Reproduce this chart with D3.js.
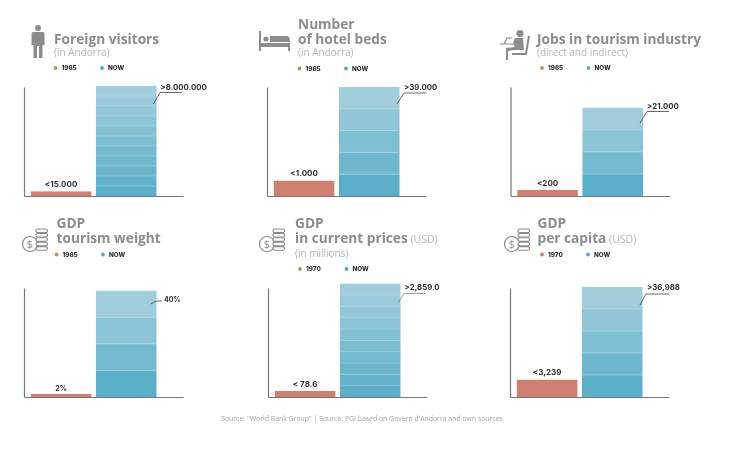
<!DOCTYPE html>
<html><head><meta charset="utf-8">
<script src="https://cdn.jsdelivr.net/npm/d3@7/dist/d3.min.js"></script>
<style>html,body{margin:0;background:#fff}svg{display:block;filter:blur(.35px)}text{font-family:"Open Sans",sans-serif}.lab{font-family:Inter,sans-serif}</style>
</head><body><svg id="c" width="737" height="451"></svg>
<script>
// ---- data ----
const categories = ["then", "now"];
const titleLines = [["Foreign visitors"],["Number","of hotel beds"],["Jobs in tourism industry"],["GDP","tourism weight"],["GDP","in current prices"],["GDP","per capita"]];
const titleUnits = ["","","",""," (USD)"," (USD)"];
const subtitles = ["(in Andorra)","(in Andorra)","(direct and indirect)","","(in millions)",""];
const thenYears = ["1965","1965","1965","1965","1970","1970"];
const nowLabel = "NOW";
const thenLabels = ["<15.000","<1.000","<200","2%","< 78.6","<3,239"];
const nowLabels = [">8.000.000",">39.000",">21.000","40%",">2,859.0",">36,988"];
// bar heights as drawn, in % of the axis height (the picture is not to true scale)
const thenHeights = [4.2,14,5.5,2.8,5.5,15.8];
const nowHeights = [101,100,81,97.5,104,101];
const nowBands = [11,5,4,4,10,5];
const iconKinds = ["person","bed","desk","coins","coins","coins"];
const sourceText = "Source: \"World Bank Group\" | Source: PGI based on Govern d'Andorra and own sources";

// ---- layout ----
const layout = [
 {ax:24,base:196,tx:54,ty:44,sub:56,leg:68,dot:[55.5,102],icon:[32,25]},
 {ax:267,base:196,tx:298,ty:29,sub:56,leg:68.5,dot:[299.5,346],icon:[259,31]},
 {ax:510.5,base:196,tx:537,ty:44,sub:56,leg:68,dot:[542,588.5],icon:[500,30]},
 {ax:24,base:397,tx:56.5,ty:228,sub:0,leg:254.5,dot:[56.5,103],icon:[21,228]},
 {ax:268,base:397,tx:295,ty:228,sub:257,leg:269,dot:[300,346.5],icon:[258,228]},
 {ax:510,base:397,tx:537.5,ty:228,sub:0,leg:254.5,dot:[542,588],icon:[503,228]}
];
const leaders = [
 {lx:160.5,ly:90,pts:[[153.5,104],[160,92.5],[182,92.5]]},
 {lx:404,ly:90,pts:[[397,104],[404,93],[426,93]]},
 {lx:647,ly:109,pts:[[640,123],[647,111.5],[669,111.5]]},
 {lx:164,ly:302,pts:[[151,304],[156,301],[162,301]]},
 {lx:404.5,ly:290,pts:[[398,303],[404,293.5],[426,293.5]]},
 {lx:647,ly:290,pts:[[640,305],[646,294],[669,294]]}
];
const axisH = 109, axisW = 159, lineGap = 15;
const RED = "#cf8171", BLUE_DOT = "#56a9c4", GREY = "#8c8c8c", LIGHT = "#b4b4b4", DARK = "#2f2f2f", AX = "#777";
const shade = d3.scaleLinear().domain([0,1]).range(["#5cafc9","#a2cedc"]);
const svg = d3.select("#c");

const icons = {
 person(g){ g.append("circle").attr("cx",6).attr("cy",3).attr("r",3).attr("fill",GREY);
   g.append("path").attr("fill",GREY).attr("d","M1,7H11Q12.500,7 12.500,9V20H10.500V33H7V21H5V33H1.500V20H-.5V9Q-.5,7 1,7Z"); },
 bed(g){ g.append("path").attr("fill",GREY).attr("d","M0,0H2V12H31V20H29V16H2V20H0Z");
   g.append("circle").attr("cx",7).attr("cy",8).attr("r",2.6).attr("fill",GREY);
   g.append("path").attr("fill",GREY).attr("d","M11,5H27Q31,5 31,10V11H11Z"); },
 desk(g){ g.append("circle").attr("cx",20).attr("cy",3.500).attr("r",3.500).attr("fill",GREY);
   g.append("path").attr("fill",GREY).attr("d","M15,8H23L24,20H14L8,21L8,30H6L6,18L15,17L13,13Z");
   g.append("path").attr("fill","none").attr("stroke",GREY).attr("stroke-width",2).attr("d","M29,6L26,24H12");
   g.append("path").attr("fill","none").attr("stroke",GREY).attr("stroke-width",1.2).attr("d","M0,14H13M4,14L7,8H12"); },
 coins(g){ g.append("circle").attr("cx",9).attr("cy",16).attr("r",7.5).attr("fill","#fff").attr("stroke",GREY).attr("stroke-width",1.2);
   g.append("text").attr("x",9).attr("y",20).attr("text-anchor","middle").attr("font-size",11).attr("fill",GREY).text("$");
   d3.range(5).forEach(i=>g.append("rect").attr("x",15).attr("y",i*4.4+1).attr("width",11.500).attr("height",3.6).attr("rx",1.6).attr("fill","#fff").attr("stroke",GREY).attr("stroke-width",1.1)); }
};

layout.forEach((L,i)=>{
  // heading (one text element, one tspan per line)
  const tt = svg.append("text").attr("y",L.ty).attr("font-size",13.7).attr("font-weight",700).attr("fill",GREY);
  titleLines[i].forEach((t,k)=>{
    tt.append("tspan").attr("x",L.tx).attr("dy",k?lineGap:0).text(t);
  });
  if(titleUnits[i]) tt.append("tspan").attr("font-size",10.5).attr("font-weight",400).attr("fill",LIGHT).text(titleUnits[i]);
  if(subtitles[i]) svg.append("text").attr("x",L.tx).attr("y",L.sub).attr("font-size",10).attr("fill",LIGHT).text(subtitles[i]);
  icons[iconKinds[i]](svg.append("g").attr("transform",`translate(${L.icon})`));
  // legend
  [[thenYears[i],RED],[nowLabel,BLUE_DOT]].forEach(([t,c],k)=>{
    svg.append("circle").attr("cx",L.dot[k]).attr("cy",L.leg).attr("r",1.9).attr("fill",c);
    svg.append("text").attr("class","lab").attr("x",L.dot[k]+6).attr("y",L.leg+2.3).attr("font-size",6.3).attr("font-weight",800).attr("fill",DARK).text(t);
  });
  // scales
  const x = d3.scaleBand().domain(categories).range([6.8,132.5]).paddingInner(.07).paddingOuter(0);
  const y = d3.scaleLinear().domain([0,100]).range([0,-axisH]);
  const g = svg.append("g").attr("transform",`translate(${L.ax},${L.base})`);
  // then bar
  g.append("rect").attr("x",x("then")).attr("width",x.bandwidth()).attr("y",y(thenHeights[i])).attr("height",-y(thenHeights[i])).attr("fill",RED);
  // now bar, in bands
  const n = nowBands[i], bh = nowHeights[i]/n;
  d3.range(n).forEach(k=>{
    g.append("rect").attr("x",x("now")).attr("width",x.bandwidth())
     .attr("y",y(bh*(k+1))).attr("height",y(bh*k)-y(bh*(k+1))+.3)
     .attr("fill",shade(n>1?k/(n-1):0));
    if(k>0) g.append("line").attr("x1",x("now")).attr("x2",x("now")+x.bandwidth()).attr("y1",y(bh*k)).attr("y2",y(bh*k)).attr("stroke","#c9e3ec").attr("stroke-width",.6).attr("stroke-opacity",n>=10?.55:.8);
  });
  // axes
  const xa = d3.scaleLinear().domain([0,1]).range([0,axisW]);
  const ax1 = g.append("g").call(d3.axisLeft(y).tickValues([]).tickSizeOuter(0));
  const ax2 = g.append("g").call(d3.axisBottom(xa).tickValues([]).tickSizeOuter(0));
  [ax1,ax2].forEach(a=>a.select(".domain").attr("stroke",AX).attr("stroke-width",1.2));
  // value labels
  const small = i===3;
  g.append("text").attr("class","lab").attr("x",x("then")+x.bandwidth()/2).attr("y",y(thenHeights[i])-(small?3:4.5))
    .attr("text-anchor","middle").attr("font-size",small?7:8).attr("font-weight",700).attr("fill",DARK).text(thenLabels[i]);
  const ld = leaders[i];
  svg.append("text").attr("class","lab").attr("x",ld.lx).attr("y",ld.ly).attr("font-size",small?7:7.8).attr("font-weight",700).attr("fill",DARK).text(nowLabels[i]);
  svg.append("path").attr("d",d3.line()(ld.pts)).attr("fill","none").attr("stroke",i===4?"#888":"#444").attr("stroke-width",.8);
});
svg.append("text").attr("x",362).attr("y",420.500).attr("text-anchor","middle").attr("font-size",6.9).attr("fill","#a5a5a5").text(sourceText);
</script></body></html>
